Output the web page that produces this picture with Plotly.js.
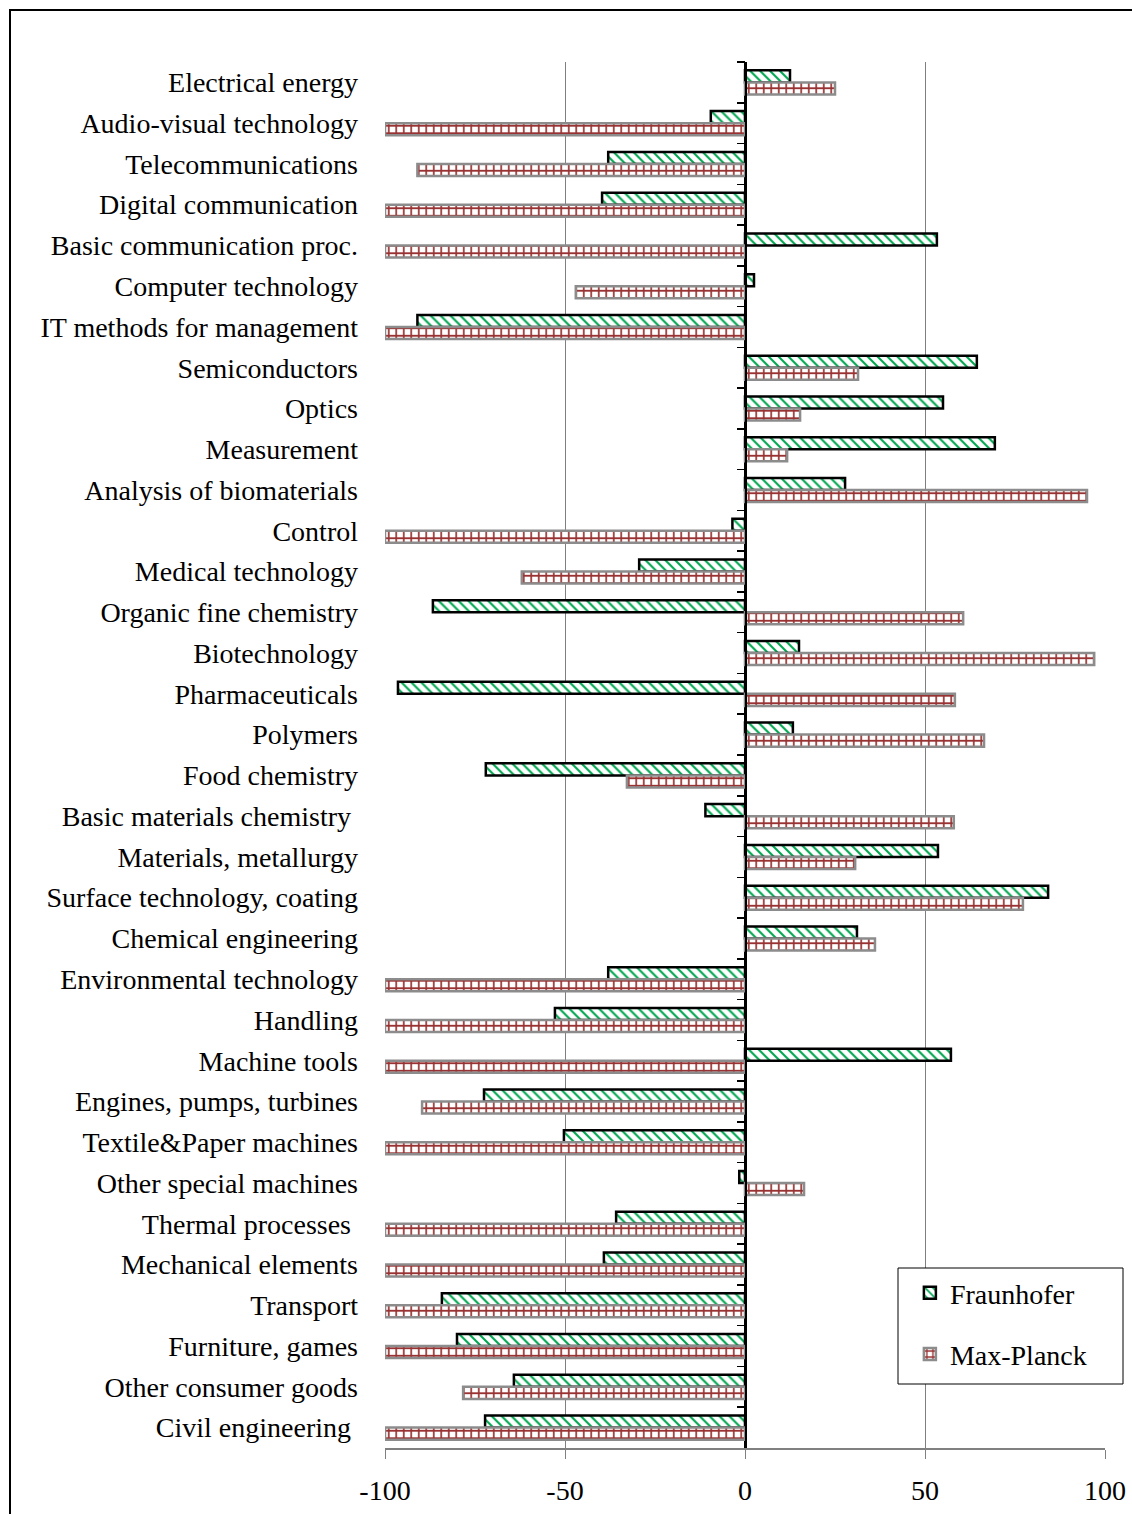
<!DOCTYPE html>
<html>
<head>
<meta charset="utf-8">
<script src="https://cdn.plot.ly/plotly-3.0.1.min.js"></script>
<style>
html,body{margin:0;padding:0;background:#fff;}
#chart{width:1132px;height:1514px;}
</style>
</head>
<body>
<div id="chart"></div>
<script>
const categories = [
  "Electrical energy",
  "Audio-visual technology",
  "Telecommunications",
  "Digital communication",
  "Basic communication proc.",
  "Computer technology",
  "IT methods for management",
  "Semiconductors",
  "Optics",
  "Measurement",
  "Analysis of biomaterials",
  "Control",
  "Medical technology",
  "Organic fine chemistry",
  "Biotechnology",
  "Pharmaceuticals",
  "Polymers",
  "Food chemistry",
  "Basic materials chemistry\u00a0",
  "Materials, metallurgy",
  "Surface technology, coating",
  "Chemical engineering",
  "Environmental technology",
  "Handling",
  "Machine tools",
  "Engines, pumps, turbines",
  "Textile&Paper machines",
  "Other special machines",
  "Thermal processes\u00a0",
  "Mechanical elements",
  "Transport",
  "Furniture, games",
  "Other consumer goods",
  "Civil engineering\u00a0"
];

const fraunhofer = [
  12.5, -9.5, -38, -39.7, 53.3, 2.5, -91, 64.4, 55, 69.4,
  27.8, -3.5, -29.4, -86.7, 15, -96.4, 13.3, -72, -11, 53.6,
  84.2, 31.1, -38, -52.8, 57.2, -72.5, -50.3, -1.6, -35.8, -39.2,
  -84.2, -80, -64.2, -72.2
];

const maxPlanck = [
  25, -100, -91, -100, -100, -47, -100, 31.4, 15.3, 11.7,
  95, -100, -62, 60.6, 97, 58.3, 66.4, -32.8, 58, 30.6,
  77.2, 36.1, -100, -100, -100, -89.7, -100, 16.4, -100, -100,
  -100, -100, -78.3, -100
];

const seriesNames = ["Fraunhofer", "Max-Planck"];
const xTicks = [-100, -50, 0, 50, 100];

const FONT = "Liberation Serif, Times New Roman, serif";
const yRange = [categories.length - 0.5, -0.5];

const traces = [
  {
    type: "bar",
    orientation: "h",
    name: seriesNames[0],
    y: categories,
    x: fraunhofer,
    legendgroup: "a",
    marker: {
      color: "#ffffff",
      line: {color: "#000000", width: 2.5},
      pattern: {shape: "\\", fgcolor: "#00a650", bgcolor: "#ffffff", size: 7, solidity: 0.3}
    },
    hoverinfo: "x+y"
  },
  {
    type: "bar",
    orientation: "h",
    name: seriesNames[1],
    y: categories,
    x: maxPlanck,
    legendgroup: "b",
    marker: {
      color: "#ffffff",
      line: {color: "#8c8c8c", width: 2.5},
      pattern: {shape: "+", fgcolor: "#993333", bgcolor: "#ffffff", size: 7.5, solidity: 0.4}
    },
    hoverinfo: "x+y"
  },
  {
    type: "scatter",
    mode: "markers",
    y: categories,
    x: categories.map(() => null),
    yaxis: "y2",
    showlegend: false,
    hoverinfo: "skip",
    marker: {opacity: 0}
  }
];

const layout = {
  width: 1132,
  height: 1514,
  paper_bgcolor: "#ffffff",
  plot_bgcolor: "#ffffff",
  font: {family: FONT, size: 28, color: "#000000"},
  margin: {l: 385, r: 27, t: 62, b: 66, pad: 0},
  barmode: "group",
  bargap: 0.41,
  bargroupgap: 0,
  showlegend: true,
  legend: {
    x: 0.729, y: 0.1299, xanchor: "left", yanchor: "top",
    bgcolor: "rgba(0,0,0,0)", bordercolor: "#000000", borderwidth: 0,
    font: {family: FONT, size: 28, color: "#000000"},
    traceorder: "grouped", tracegroupgap: 22,
    itemwidth: 30
  },
  xaxis: {
    range: [-100, 100],
    tickvals: xTicks,
    ticktext: xTicks.map(String),
    showgrid: true, gridcolor: "#808080", gridwidth: 1,
    zeroline: true, zerolinecolor: "#000000", zerolinewidth: 1.5,
    showline: true, linecolor: "#808080", linewidth: 2,
    ticks: "outside", ticklen: 9, tickcolor: "#808080", tickwidth: 1,
    ticklabelstandoff: 7,
    tickfont: {family: FONT, size: 28, color: "#000000"},
    fixedrange: true
  },
  yaxis: {
    type: "category",
    categoryorder: "array",
    categoryarray: categories,
    range: yRange,
    autorange: false,
    showgrid: false, zeroline: false, showline: false,
    ticks: "",
    ticklabelstandoff: 26,
    tickfont: {family: FONT, size: 28, color: "#000000"},
    fixedrange: true
  },
  yaxis2: {
    type: "category",
    categoryorder: "array",
    categoryarray: categories,
    overlaying: "y",
    range: yRange,
    autorange: false,
    anchor: "free",
    position: 0.5,
    side: "left",
    showgrid: false, zeroline: false,
    showline: true, linecolor: "#000000", linewidth: 1.5,
    ticks: "outside", ticklen: 8, tickcolor: "#000000", tickwidth: 1.5,
    tickson: "boundaries",
    showticklabels: false,
    fixedrange: true
  },
  shapes: [
    {
      type: "rect", xref: "paper", yref: "paper",
      x0: (10 - 385) / 720, x1: 1.2,
      y0: -0.2, y1: (1448 - 10) / 1386,
      line: {color: "#000000", width: 2},
      fillcolor: "rgba(0,0,0,0)",
      layer: "below"
    },
    {
      type: "rect", xref: "paper", yref: "paper",
      x0: (898 - 385) / 720, x1: (1123 - 385) / 720,
      y0: (1448 - 1384) / 1386, y1: (1448 - 1268) / 1386,
      line: {color: "#000000", width: 1},
      fillcolor: "#ffffff",
      layer: "above"
    }
  ]
};

Plotly.newPlot("chart", traces, layout, {staticPlot: true, displayModeBar: false});
</script>
</body>
</html>
